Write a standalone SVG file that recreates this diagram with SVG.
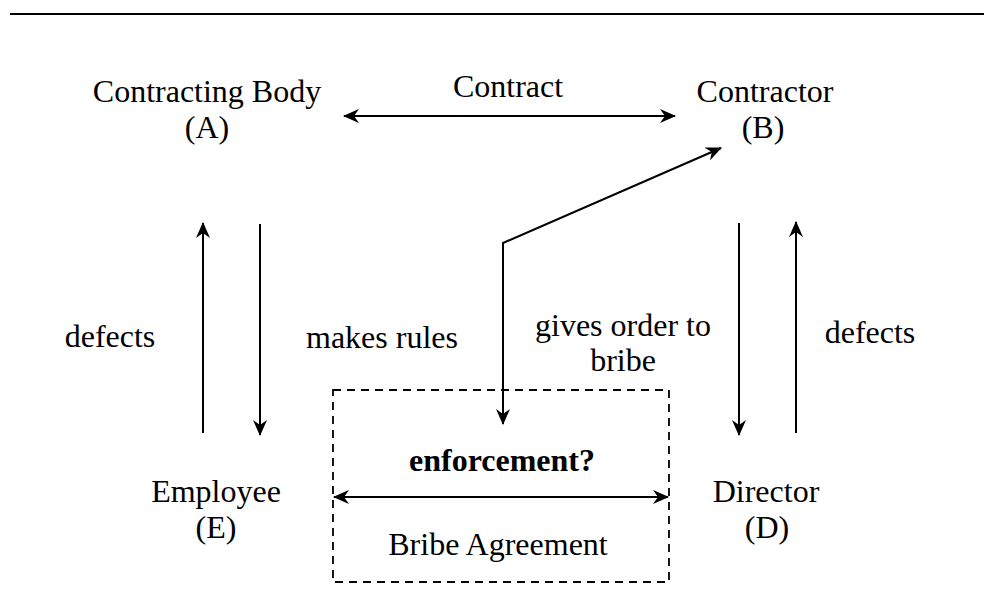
<svg xmlns="http://www.w3.org/2000/svg" width="984" height="611" viewBox="0 0 984 611">
<defs>
<style>
text{font-family:"Liberation Serif","Times New Roman",serif;font-size:32px;fill:#000;text-anchor:middle}
.b{font-weight:bold}
.ln{stroke:#000;stroke-width:2;fill:none}
</style>
<marker id="ah" viewBox="0 0 16 14" refX="15" refY="7" markerWidth="16" markerHeight="14" markerUnits="userSpaceOnUse" orient="auto-start-reverse">
<path d="M0,0 L16,7 L0,14 L5,7 Z" fill="#000"/>
</marker>
</defs>
<rect width="984" height="611" fill="#fff"/>
<line x1="10" y1="14" x2="984" y2="14" stroke="#000" stroke-width="2"/>
<g id="nodeA"><text x="207" y="102">Contracting Body</text><text x="207" y="138">(A)</text></g>
<g id="nodeB"><text x="765" y="102">Contractor</text><text x="763" y="138">(B)</text></g>
<g id="nodeE"><text x="216" y="502">Employee</text><text x="216" y="538">(E)</text></g>
<g id="nodeD"><text x="766" y="502">Director</text><text x="767" y="538">(D)</text></g>
<g id="bribe">
<rect x="333" y="390" width="336" height="192" fill="none" stroke="#000" stroke-width="1.8" stroke-dasharray="8,6"/>
<text class="b" x="502" y="471">enforcement?</text>
<text x="498" y="555">Bribe Agreement</text>
</g>
<g id="connectors">
<line class="ln" x1="344" y1="116" x2="675" y2="116" marker-start="url(#ah)" marker-end="url(#ah)"/>
<text x="508" y="97">Contract</text>
<polyline class="ln" points="503,424 503,243 721,148" marker-end="url(#ah)"/>
<line class="ln" x1="503" y1="300" x2="503" y2="424" marker-end="url(#ah)"/>
<text x="623" y="336">gives order to</text>
<text x="623" y="371">bribe</text>
<line class="ln" x1="203" y1="433" x2="203" y2="223" marker-end="url(#ah)"/>
<text x="110" y="347">defects</text>
<line class="ln" x1="260" y1="224" x2="260" y2="435" marker-end="url(#ah)"/>
<text x="382" y="348">makes rules</text>
<line class="ln" x1="739" y1="223" x2="739" y2="435" marker-end="url(#ah)"/>
<line class="ln" x1="796" y1="433" x2="796" y2="222" marker-end="url(#ah)"/>
<text x="870" y="343">defects</text>
<line class="ln" x1="334" y1="497" x2="668" y2="497" marker-start="url(#ah)" marker-end="url(#ah)"/>
</g>
</svg>
